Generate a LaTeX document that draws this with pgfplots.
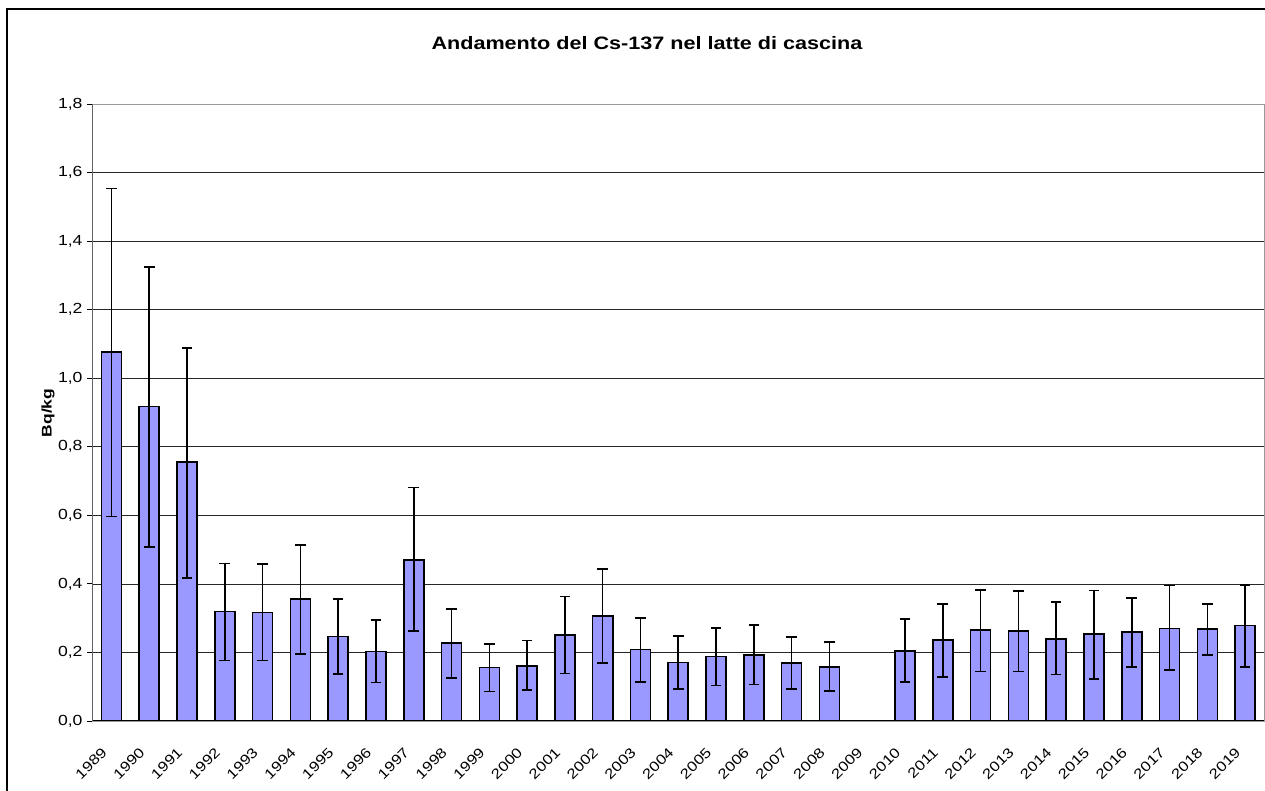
\documentclass[border=0pt]{standalone}
\usepackage{pgfplots}
\pgfplotsset{compat=1.18}
\usepackage{pgfplotstable}
\usepackage{fontspec}
\setmainfont{Liberation Sans}
\newfontfamily\widefont[FakeStretch=1.2]{Liberation Sans}
\newfontfamily\ylabfont[FakeStretch=1.25]{Liberation Sans}
\definecolor{barblue}{HTML}{9999FF}
\pgfplotstableread{
x y ep em
0 1.077 0.477 0.480
1 0.917 0.408 0.409
2 0.755 0.334 0.337
3 0.319 0.141 0.143
4 0.317 0.141 0.141
5 0.356 0.157 0.161
6 0.246 0.110 0.109
7 0.203 0.092 0.091
8 0.470 0.211 0.208
9 0.227 0.100 0.101
10 0.156 0.068 0.070
11 0.161 0.074 0.071
12 0.251 0.112 0.112
13 0.306 0.137 0.136
14 0.208 0.092 0.094
15 0.171 0.077 0.077
16 0.188 0.084 0.084
17 0.193 0.087 0.086
18 0.169 0.076 0.075
19 0.158 0.072 0.070
20 0.000 0.000 0.000
21 0.205 0.092 0.091
22 0.237 0.105 0.109
23 0.265 0.117 0.121
24 0.263 0.117 0.119
25 0.240 0.107 0.104
26 0.253 0.128 0.131
27 0.260 0.099 0.102
28 0.270 0.125 0.122
29 0.268 0.074 0.075
30 0.278 0.118 0.120
}\cstable
\begin{document}
\begin{tikzpicture}
\path[use as bounding box] (0,0) rectangle (948.75pt,593.25pt);
% outer chart frame
\draw[black, line width=1.1pt] (5.25pt,-4pt) -- (5.25pt,586.5pt) -- (952pt,586.5pt);
\begin{axis}[
  at={(69.4pt,52.5pt)}, anchor=south west,
  scale only axis, width=878.6pt, height=462.75pt,
  xmin=-0.5, xmax=30.5, ymin=0, ymax=1.8,
  axis line style={draw=gray!80},
  ytick={0,0.2,...,1.8},
  ymajorgrids, grid style={black!85, line width=0.55pt},
  tick pos=left, tick align=outside,
  major tick length=4pt,
  tick style={black, line width=0.7pt},
  /pgf/number format/fixed,
  /pgf/number format/fixed zerofill,
  /pgf/number format/precision=1,
  /pgf/number format/use comma,
  /pgf/number format/assume math mode=true,
  yticklabel style={font=\widefont\fontsize{11}{13}\selectfont},
  xtick={0,...,30},
  xticklabels={1989,1990,1991,1992,1993,1994,1995,1996,1997,1998,1999,2000,2001,2002,2003,2004,2005,2006,2007,2008,2009,2010,2011,2012,2013,2014,2015,2016,2017,2018,2019},
  xticklabel style={xshift=-8pt, yshift=-15pt, inner sep=0pt, rotate=45, anchor=north east, font=\widefont\fontsize{10.5}{12}\selectfont},
  xtick style={draw=none},
  extra x ticks={-0.5,0.5,...,30.5},
  extra x tick labels={},
  extra x tick style={tick style={draw=black, line width=0.7pt}},
  ybar, bar width=0.53,
]
\addplot[fill=barblue, draw=black, line width=1.2pt,
  error bars/.cd, y dir=both, y explicit,
  error bar style={black, line width=1.2pt},
  error mark options={rotate=90, mark size=4pt, line width=1.2pt}]
  table[x=x, y=y, y error plus=ep, y error minus=em] {\cstable};
\draw[black, line width=0.9pt] (rel axis cs:0,0) -- (rel axis cs:0,1);
\draw[black, line width=0.9pt] (rel axis cs:0,0) -- (rel axis cs:1,0);
\end{axis}
\node[font=\widefont\bfseries\fontsize{13.5}{15}\selectfont] at (485.25pt,561pt) {Andamento del Cs-137 nel latte di cascina};
\node[font=\ylabfont\bfseries\fontsize{10.5}{12}\selectfont, rotate=90] at (36pt,283.5pt) {Bq/kg};
\end{tikzpicture}
\end{document}
